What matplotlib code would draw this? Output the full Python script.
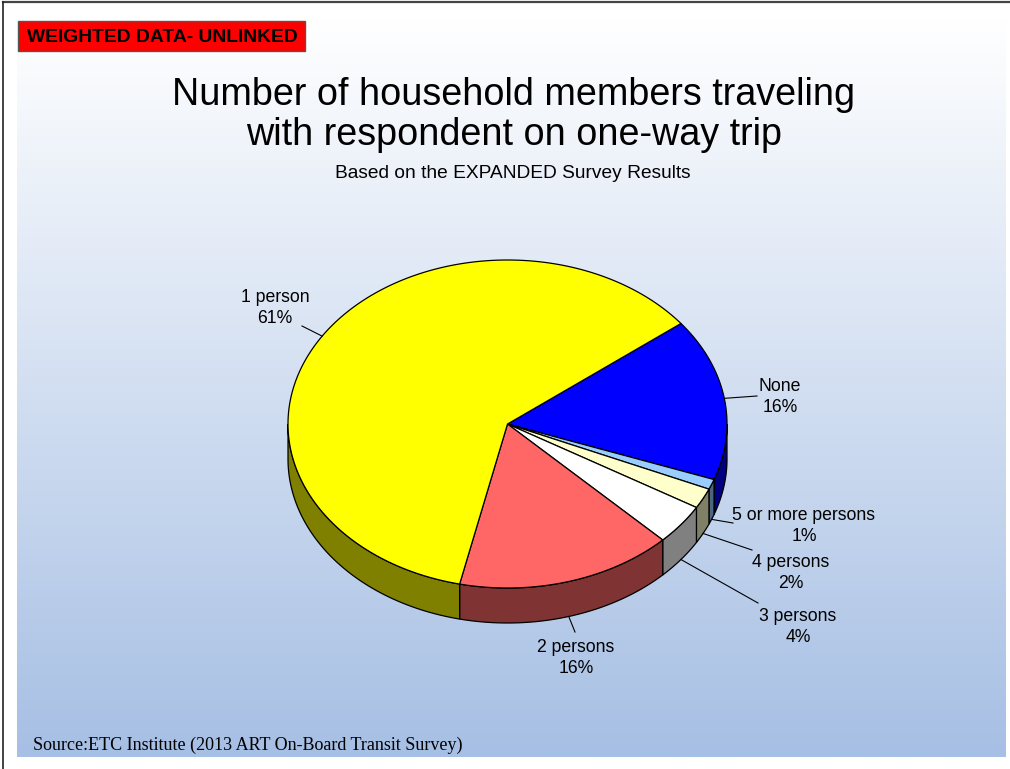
import numpy as np
import matplotlib.pyplot as plt
from matplotlib.patches import Polygon, Rectangle

plt.rcParams['font.family'] = ['Liberation Sans', 'DejaVu Sans']

# slices, listed clockwise starting at the None / 1 person boundary
labels = ['None', '5 or more persons', '4 persons', '3 persons', '2 persons', '1 person']
shares = [16, 1, 2, 4, 16, 61]
top_colors = ['#0000FF', '#99CCFF', '#FFFFCC', '#FFFFFF', '#FF6666', '#FFFF00']
side_colors = ['#000080', '#4C6680', '#808066', '#808080', '#803333', '#808000']

title = 'Number of household members traveling\nwith respondent on one-way trip'
subtitle = 'Based on the EXPANDED Survey Results'
source = 'Source:ETC Institute (2013 ART On-Board Transit Survey)'

W, H = 1010, 769
fig = plt.figure(figsize=(W / 100, H / 100), dpi=100)
ax = fig.add_axes([0, 0, 1, 1])
ax.set_xlim(0, W)
ax.set_ylim(H, 0)
ax.axis('off')

# background gradient panel
grad = np.linspace(0, 1, 256)[:, None]
top_c = np.array([1.0, 1.0, 1.0])
bot_c = np.array([166, 191, 228]) / 255
img = top_c + (bot_c - top_c) * grad[..., None]
img = np.repeat(img, 2, axis=1)
ax.imshow(img, extent=[17, 1006, 757, 18], aspect='auto', zorder=0)

# slide frame
ax.plot([3, W], [1.5, 1.5], color='#444444', lw=1.6, zorder=1)
ax.plot([3.2, 3.2], [1.5, H], color='#222222', lw=1.2, zorder=1)

# red tag
ax.add_patch(Rectangle((18, 21), 287, 30, facecolor='#FF0000', edgecolor='#555555', lw=1, zorder=2))
ax.text(27, 37, 'WEIGHTED DATA- UNLINKED', fontsize=13.9, fontweight='bold',
        ha='left', va='center', zorder=3)

ax.text(514, 115, title, fontsize=27.2, ha='center', va='center', linespacing=1.12)
ax.text(513, 173, subtitle, fontsize=13.8, ha='center', va='center')
ax.text(33, 745, source, fontsize=12.95, family=['Liberation Serif', 'DejaVu Serif'],
        ha='left', va='center')

# 3D pie geometry
cx, cy = 507.5, 424
a, b = 219.5, 164
depth = 35
start = 37.8


def pt(t, dz=0.0):
    r = np.radians(t)
    return cx + a * np.cos(r), cy - b * np.sin(r) + dz


angles = [start]
for s in shares:
    angles.append(angles[-1] - 360 * s / sum(shares))

# side walls (front half only)
for i in range(len(shares)):
    t1, t2 = angles[i + 1], angles[i]
    lo = max(t1, -180)
    hi = min(t2, 0)
    if lo >= hi:
        continue
    ts = np.linspace(lo, hi, 80)
    upper = [pt(t) for t in ts]
    lower = [pt(t, depth) for t in ts[::-1]]
    ax.add_patch(Polygon(upper + lower, closed=True, facecolor=side_colors[i],
                         edgecolor='black', lw=0.9, zorder=4))

# top faces
for i in range(len(shares)):
    t1, t2 = angles[i + 1], angles[i]
    ts = np.linspace(t2, t1, max(int(abs(t2 - t1)) * 2, 4))
    verts = [(cx, cy)] + [pt(t) for t in ts]
    ax.add_patch(Polygon(verts, closed=True, facecolor=top_colors[i],
                         edgecolor='black', lw=0.9, zorder=5, joinstyle='round'))

# labels with leader lines
label_xy = {
    'None': (780, 397),
    '5 or more persons': (804, 526),
    '4 persons': (791, 573),
    '3 persons': (798, 627),
    '2 persons': (576, 658),
    '1 person': (275, 308),
}
leader_end = {
    'None': (757, 396),
    '5 or more persons': (733, 523),
    '4 persons': (752, 550),
    '3 persons': (758, 603),
    '2 persons': (575, 632),
    '1 person': (302, 326),
}
for i, name in enumerate(labels):
    mid = (angles[i] + angles[i + 1]) / 2
    front = np.sin(np.radians(mid)) < 0
    x0, y0 = pt(mid, depth if front else 0)
    x1, y1 = leader_end[name]
    ax.plot([x0, x1], [y0, y1], color='black', lw=0.8, zorder=6)
    tx, ty = label_xy[name]
    ax.text(tx, ty, f'{name}\n{shares[i]}%', fontsize=12.7, ha='center', va='center',
            linespacing=1.32, zorder=7)

fig.savefig('out.png', dpi=100)
